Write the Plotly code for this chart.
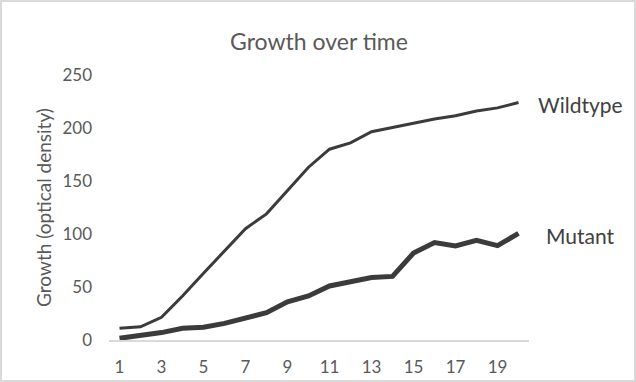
import plotly.graph_objects as go

time = list(range(1, 21))
wildtype = [11, 12.5, 21.4, 41.5, 63, 84, 105, 119, 141.5, 163, 180, 186, 196.5, 200.5, 205, 208.5, 211.6, 216, 219, 224]
mutant = [1.6, 3.8, 7, 11, 12, 15.7, 21, 25.8, 36, 41.5, 51, 55, 59, 60, 82, 92, 88.7, 94, 89, 100.6]
x_ticks = list(range(1, 21, 2))
y_ticks = [0, 50, 100, 150, 200, 250]

FONT = "Lato"
TXT = "#595959"
LINE = "#3b3b3b"

W, H = 636, 382
ml, mr, mt, mb = 109, 107, 75, 42
pw, ph = W - ml - mr, H - mt - mb

fig = go.Figure()
fig.add_trace(go.Scatter(x=time, y=wildtype, mode="lines", name="Wildtype",
                         line=dict(color=LINE, width=3)))
fig.add_trace(go.Scatter(x=time, y=mutant, mode="lines", name="Mutant",
                         line=dict(color=LINE, width=5)))

fig.add_annotation(x=time[-1], y=wildtype[-1], text="Wildtype", showarrow=False,
                   xanchor="left", yanchor="middle", xshift=17, yshift=-2,
                   font=dict(family=FONT, size=21, color="#404040"))
fig.add_annotation(x=time[-1], y=mutant[-1], text="Mutant", showarrow=False,
                   xanchor="left", yanchor="middle", xshift=25, yshift=-2,
                   font=dict(family=FONT, size=21, color="#404040"))

# outer chart border
fig.add_shape(type="rect", xref="paper", yref="paper",
              x0=(-ml + 1) / pw, x1=(pw + mr - 1) / pw,
              y0=(-mb + 1) / ph, y1=(ph + mt - 1) / ph,
              line=dict(color="#d9d9d9", width=2), fillcolor="rgba(0,0,0,0)")

fig.update_layout(
    width=W, height=H,
    margin=dict(l=ml, r=mr, t=mt, b=mb, autoexpand=False),
    paper_bgcolor="white", plot_bgcolor="white",
    showlegend=False,
    title=dict(text="Growth over time", x=0.5, xref="paper", xanchor="center",
               y=1 - 42 / H, yanchor="middle",
               font=dict(family=FONT, size=23, color=TXT)),
    xaxis=dict(range=[0.5, 20.5], tickvals=x_ticks, ticktext=[str(v) for v in x_ticks],
               showgrid=False, zeroline=False, showline=True, linecolor="#d9d9d9",
               linewidth=2, ticks="", ticklen=0, ticklabelstandoff=11, automargin=False,
               tickfont=dict(family=FONT, size=17, color=TXT)),
    yaxis=dict(range=[0, 250], tickvals=y_ticks, showgrid=False, zeroline=False,
               showline=False, ticks="", ticklabelstandoff=16, automargin=False,
               title=dict(text="Growth (optical density)", standoff=5,
                          font=dict(family=FONT, size=19, color=TXT)),
               tickfont=dict(family=FONT, size=17, color=TXT)),
)

fig.write_html("out.html", config={"displayModeBar": False},
               post_script="document.body.style.margin='0';")
